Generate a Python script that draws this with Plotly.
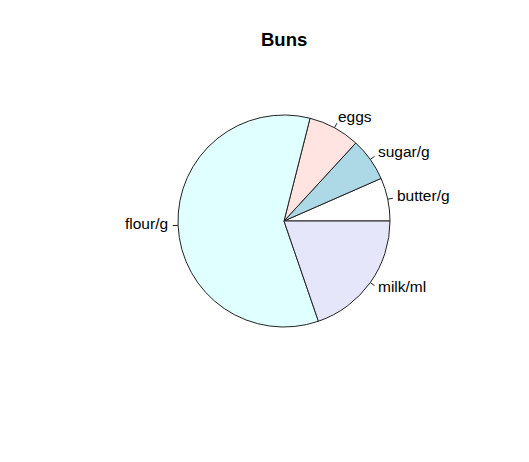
import math
import plotly.graph_objects as go

# Data
categories = ["butter/g", "sugar/g", "eggs", "flour/g", "milk/ml"]
values = [50, 50, 60, 450, 150]
colors = ["#FFFFFF", "#ADD8E6", "#FFE4E1", "#E0FFFF", "#E6E6FA"]
title_text = "Buns"

W, H = 529, 462
OFF = 8.0  # page body margin offset
cx_px, cy_px = 284.0 - OFF, 221.0 - OFF   # pie centre (pixels from top-left of figure)
r_px = 106.0
FONT = "Liberation Sans, Arial, Helvetica, sans-serif"

total = sum(values)
first_deg = values[0] / total * 360.0

fig = go.Figure(go.Pie(
    labels=categories,
    values=values,
    sort=False,
    direction="counterclockwise",
    rotation=90 - first_deg,
    marker=dict(colors=colors, line=dict(color="#222222", width=1)),
    textinfo="none",
    hoverinfo="label+value",
    showlegend=False,
    domain=dict(x=[(cx_px - r_px) / W, (cx_px + r_px) / W],
                y=[(H - cy_px - r_px) / H, (H - cy_px + r_px) / H]),
))

def to_paper(ang_deg, rr):
    a = math.radians(ang_deg)
    x = (cx_px + rr * math.cos(a)) / W
    y = (H - cy_px + rr * math.sin(a)) / H
    return x, y

cum = 0.0
annotations = []
shapes = []
for lab, v in zip(categories, values):
    mid = (cum + v / 2.0) / total * 360.0
    cum += v
    x0, y0 = to_paper(mid, r_px)
    x1, y1 = to_paper(mid, r_px * 1.05)
    shapes.append(dict(type="line", xref="paper", yref="paper",
                       x0=x0, y0=y0, x1=x1, y1=y1,
                       line=dict(color="#222222", width=1)))
    tx, ty = to_paper(mid, r_px * 1.1)
    right_side = math.cos(math.radians(mid)) > 0
    annotations.append(dict(
        x=tx, y=ty, xref="paper", yref="paper", text=lab, showarrow=False,
        xanchor="left" if right_side else "right",
        yanchor="middle",
        xshift=-3 if right_side else 3,
        yshift=2,
        font=dict(family=FONT, size=15.5, color="black"),
    ))

annotations.append(dict(
    x=cx_px / W, y=1 - (41 - OFF) / H, xref="paper", yref="paper",
    text="<b>" + title_text + "</b>", showarrow=False,
    xanchor="center", yanchor="middle", yshift=1,
    font=dict(family=FONT, size=18.5, color="black"),
))

fig.update_layout(
    width=W, height=H,
    margin=dict(l=0, r=0, t=0, b=0),
    paper_bgcolor="white",
    plot_bgcolor="white",
    annotations=annotations,
    shapes=shapes,
)

fig.write_html("out.html")
